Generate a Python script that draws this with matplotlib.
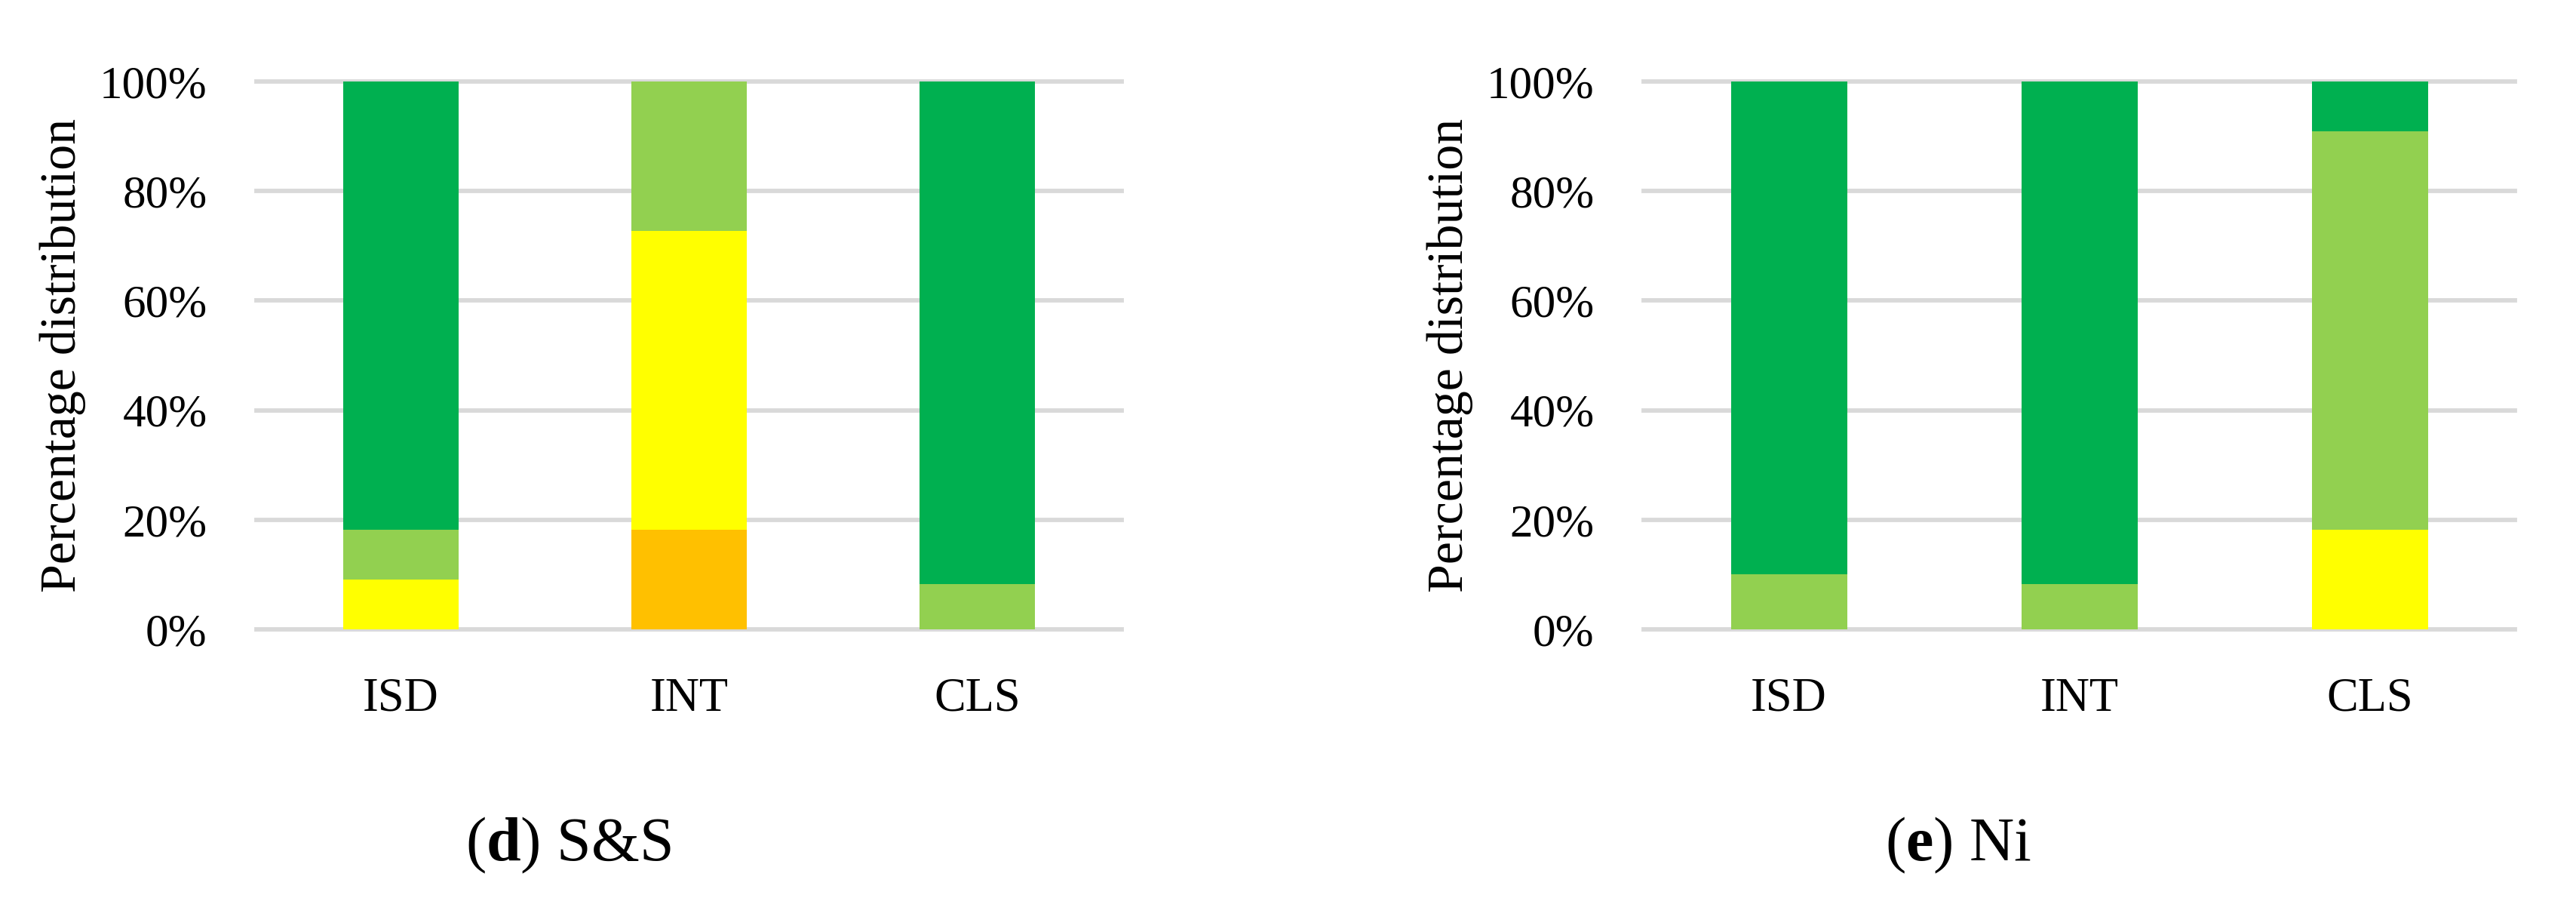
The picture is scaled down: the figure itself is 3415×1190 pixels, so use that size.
import matplotlib
matplotlib.use("Agg")
import matplotlib.pyplot as plt
import numpy as np

plt.rcParams['font.family'] = ['Liberation Serif', 'DejaVu Serif']
plt.rcParams['mathtext.fontset'] = 'custom'
plt.rcParams['mathtext.rm'] = 'Liberation Serif'
plt.rcParams['mathtext.bf'] = 'Liberation Serif:bold'

categories = ["ISD", "INT", "CLS"]
series_names = ["Orange", "Yellow", "Light green", "Green"]
series_colors = ["#FFC000", "#FFFF00", "#92D050", "#00B050"]

# S&S panel (percent), bottom to top
ss_orange = [0.0, 18.2, 0.0]
ss_yellow = [9.1, 54.5, 0.0]
ss_lightgreen = [9.1, 27.3, 8.3]
ss_green = [81.8, 0.0, 91.7]

# Ni panel (percent), bottom to top
ni_orange = [0.0, 0.0, 0.0]
ni_yellow = [0.0, 0.0, 18.2]
ni_lightgreen = [10.0, 8.3, 72.7]
ni_green = [90.0, 91.7, 9.1]

yticks = [0, 20, 40, 60, 80, 100]
ytick_labels = ["0%", "20%", "40%", "60%", "80%", "100%"]
ylabel = "Percentage distribution"
captions = [r"($\mathbf{d}$) S&S", r"($\mathbf{e}$) Ni"]

W, H = 3415, 1190
fig = plt.figure(figsize=(W / 100, H / 100), dpi=100)

panels = [
    ([ss_orange, ss_yellow, ss_lightgreen, ss_green], 340, 1147, 753),
    ([ni_orange, ni_yellow, ni_lightgreen, ni_green], 2179, 1155, 2596),
]
top_px, bot_px = 108, 834

for (data, x0, w, cap_x), caption in zip(panels, captions):
    ax = fig.add_axes([x0 / W, (H - bot_px) / H, w / W, (bot_px - top_px) / H])
    x = np.arange(len(categories))
    bottom = np.zeros(len(categories))
    for vals, col in zip(data, series_colors):
        v = np.array(vals)
        ax.bar(x, v, width=0.4, bottom=bottom, color=col, zorder=3, linewidth=0)
        bottom += v
    ax.set_xlim(-0.5, 2.5)
    ax.set_ylim(0, 100)
    for yv in yticks:
        ax.axhline(yv, color="#D9D9D9", linewidth=4.2, zorder=1, clip_on=False)
    ax.set_yticks(yticks)
    ax.set_yticklabels(ytick_labels)
    ax.set_xticks(x)
    ax.set_xticklabels(categories)
    ax.tick_params(axis="y", length=0, pad=47, labelsize=44)
    ax.tick_params(axis="x", length=0, pad=46, labelsize=45)
    for s in ax.spines.values():
        s.set_visible(False)
    fig.text((x0 - 257) / W, (H - (top_px + bot_px) / 2) / H, ylabel,
             rotation=90, ha="center", va="center", fontsize=49)
    fig.text(cap_x / W, (H - 1140) / H, caption, ha="center", va="baseline",
             fontsize=59)

fig.savefig("out.png", dpi=100, facecolor="white")
